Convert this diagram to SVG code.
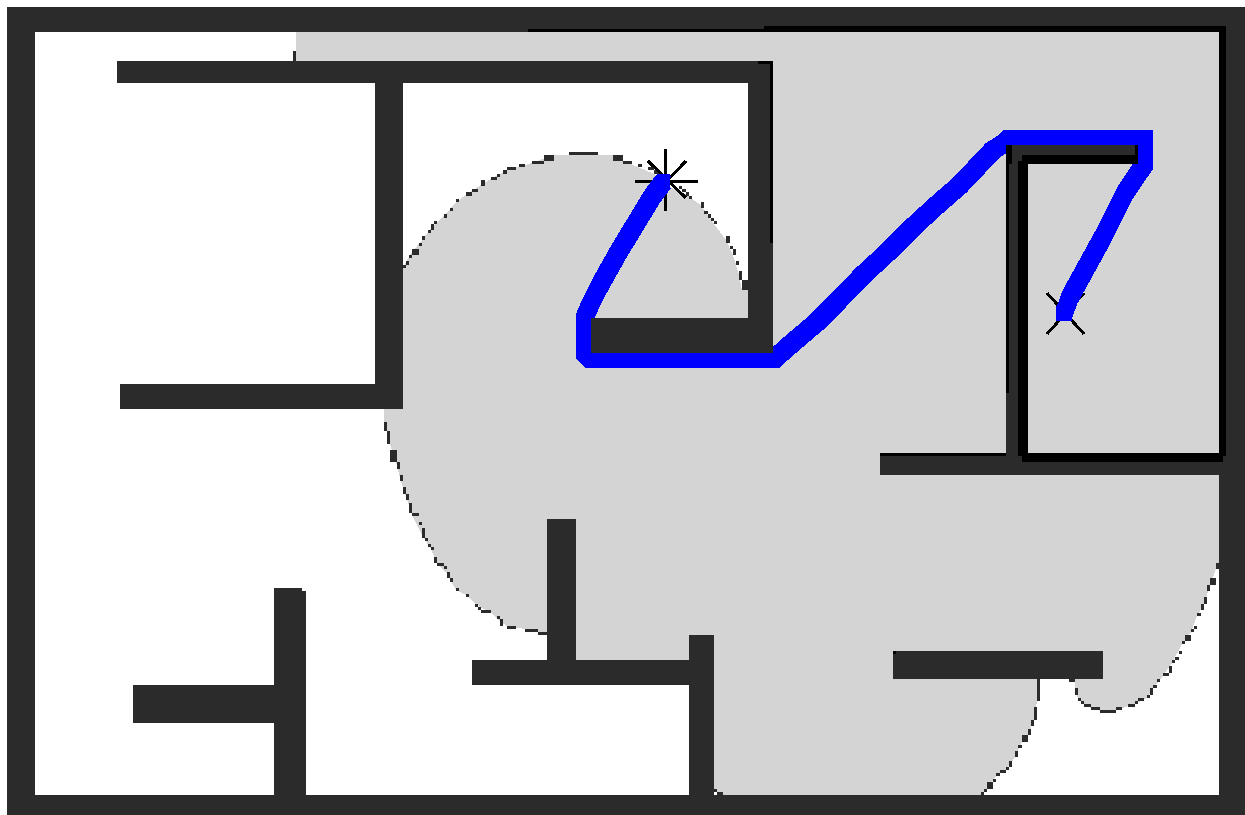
<svg xmlns="http://www.w3.org/2000/svg" width="1245" height="815" viewBox="0 0 1245 815">
<style>
.wall{fill:#2b2b2b}
.ink{fill:#000}
.ray{fill:none;stroke:#000;stroke-width:3}
.route{fill:none;stroke:#00f;stroke-width:15;stroke-linejoin:round}
.brush{fill:none;stroke:#00f;stroke-width:3;stroke-linejoin:round}
.cap{fill:#00f}
*{shape-rendering:crispEdges}
</style>
<defs>
<path id="route-line" d="M663.5 181.5L652 197L638 220L618 253L599 287L591 303L583.5 320L583.5 352L592 360.5L772.5 360.5L790 345L817 322L837 302L863 275L888 252L913 227L937 205L960 185L977 167L993 150L1003 144L1010.5 137.5L1145.5 137.5L1145.5 162.5L1137 175L1125 193L1115 213L1103 237L1092 257L1081 277L1070 297L1064 313.5"/>
</defs>
<rect width="1245" height="815" fill="#fff"/>
<path id="visible-area" fill="#d4d4d4" d="M296 32L1219 32L1219 563L1216 569L1210 585L1204 604L1197 616L1191 632L1182 644L1172 663L1163 676L1153 688L1147 698L1135 704L1116 710L1100 711L1091 708L1084 705L1078 699L1075 688L1075 679L1040 679L1037 701L1034 720L1028 735L1022 742L1015 757L1006 770L996 776L987 789L981 795L717 795L717 792L714 792L714 670L700 660L560 660L560 632L538 632L525 629L507 626L500 621L490 612L478 606L466 595L456 590L447 574L437 563L431 549L422 535L412 515L406 496L400 478L397 465L390 445L384 420L384 409L390 409L390 268L403 268L406 262L412 252L422 240L431 228L444 216L456 202L466 195L481 185L491 179L507 170L532 163L553 155L613 155L623 161L638 167L654 174L665 185L682 192L701 205L714 224L726 240L733 255L739 275L742 290L760 290L760 72L296 72Z"/>
<path id="visibility-edge" class="wall" d="M293 51h3v10h-3zM403 265h3v3h-3zM406 261h3v4h-3zM409 255h3v3h-3zM412 249h7v6h-7zM419 243h3v3h-3zM422 236h3v4h-3zM428 230h3v3h-3zM431 224h3v6h-3zM434 221h3v3h-3zM444 214h3v4h-3zM450 208h3v3h-3zM456 199h3v3h-3zM466 192h6v4h-6zM472 189h6v3h-6zM481 180h4v6h-4zM491 177h6v3h-6zM497 174h3v3h-3zM503 170h4v4h-4zM507 167h9v3h-9zM519 164h6v3h-6zM532 161h12v3h-12zM544 155h10v6h-10zM569 152h29v3h-29zM613 155h10v6h-10zM623 161h9v3h-9zM638 164h4v3h-4zM648 167h6v3h-6zM654 170h6v4h-6zM679 186h3v3h-3zM682 189h4v3h-4zM686 192h3v4h-3zM689 196h3v3h-3zM701 202h3v6h-3zM704 211h4v3h-4zM708 214h3v4h-3zM711 218h3v3h-3zM714 221h3v3h-3zM726 236h4v7h-4zM730 246h3v3h-3zM733 249h3v6h-3zM736 261h3v4h-3zM739 271h3v9h-3zM742 280h6v10h-6zM384 422h3v9h-3zM387 431h3v13h-3zM390 450h7v12h-7zM397 462h3v7h-3zM400 475h3v6h-3zM403 487h3v7h-3zM406 494h3v6h-3zM409 503h3v10h-3zM412 513h7v3h-7zM419 522h3v3h-3zM422 528h3v10h-3zM425 538h3v3h-3zM428 544h3v3h-3zM431 547h3v3h-3zM434 557h3v6h-3zM437 563h7v3h-7zM444 566h3v3h-3zM447 572h3v6h-3zM450 578h3v4h-3zM456 588h3v3h-3zM466 594h3v3h-3zM475 604h3v3h-3zM478 607h3v3h-3zM481 610h10v3h-10zM497 616h3v3h-3zM500 619h3v7h-3zM507 626h9v3h-9zM525 629h13v3h-13zM538 632h9v3h-9zM1216 563h3v6h-3zM1210 578h6v7h-6zM1207 585h3v6h-3zM1204 597h3v7h-3zM1201 604h3v6h-3zM1197 613h4v3h-4zM1194 626h3v3h-3zM1191 629h3v3h-3zM1185 635h6v6h-6zM1182 641h3v3h-3zM1179 651h3v3h-3zM1175 657h4v3h-4zM1172 660h3v3h-3zM1169 666h3v7h-3zM1163 673h6v3h-6zM1157 679h3v3h-3zM1153 685h4v3h-4zM1150 688h3v7h-3zM1147 695h3v3h-3zM1138 698h6v3h-6zM1135 701h3v3h-3zM1128 704h7v3h-7zM1116 707h6v3h-6zM1100 710h16v3h-16zM1091 707h9v3h-9zM1084 704h7v3h-7zM1081 701h3v3h-3zM1078 698h3v3h-3zM1075 688h3v7h-3zM1069 679h6v3h-6zM1037 679h3v22h-3zM1034 707h3v13h-3zM1031 720h3v6h-3zM1028 729h3v6h-3zM1022 735h6v7h-6zM1018 745h4v3h-4zM1015 751h3v6h-3zM1009 761h3v6h-3zM1006 767h3v3h-3zM1000 770h6v3h-6zM996 773h4v3h-4zM993 779h3v3h-3zM987 782h6v7h-6zM984 789h3v3h-3zM981 792h3v3h-3zM714 789h3v3h-3zM717 792h6v3h-6z"/>
<g id="start-marker">
<path class="ray" d="M665.5 149V211M635 181.5H698M648 161L686 198M686 161L650 198"/>
</g>
<g id="goal-marker">
<path class="ray" d="M1047 293L1084 334M1084 293L1047 334"/>
</g>
<g id="connectors">
<use href="#route-line" class="route"/>
<use href="#route-line" class="brush" x="-6" y="-6"/>
<use href="#route-line" class="brush" x="6" y="-6"/>
<use href="#route-line" class="brush" x="-6" y="6"/>
<use href="#route-line" class="brush" x="6" y="6"/>
<rect class="cap" x="657" y="174" width="13" height="15"/>
<rect class="cap" x="1056" y="306" width="16" height="15"/>
</g>
<g id="walls">
<path id="frame" class="wall" fill-rule="evenodd" d="M7 7H1245V815H7ZM35 32V795H1219V32Z"/>
<path id="room-top" class="wall" d="M117 61H773V353H591V318H748V83H117Z"/>
<path id="room-left" class="wall" d="M375 83H403V409H120V384H375Z"/>
<path id="wall-lower-left" class="wall" d="M274 588H302V591H306V795H274V723H133V685H274Z"/>
<path id="wall-lower-mid" class="wall" d="M547 519H576V660H689V635H714V795H689V685H472V660H547Z"/>
<path id="wall-lower-right" class="wall" d="M893 651H1103V679H893Z"/>
<path id="wall-right" class="wall" d="M880 453H1219V475H880Z"/>
<path id="goal-room" class="wall" d="M1006 145H1138V155H1022V453H1006Z"/>
</g>
<g id="wall-edges">
<path class="ink" d="M528 29H764V26H1226V456H1223V462H1022V453H1219V32H528Z"/>
<path class="ink" d="M758 61H773V243H770V64H758Z"/>
<path class="ink" d="M893 651h3v3h-3zM880 453H1006V456H880ZM1006 145H1012V164H1009V393H1006ZM1135 145H1138V155H1135ZM1022 155H1138V164H1028V456H1018V161H1022Z"/>
</g>
</svg>
